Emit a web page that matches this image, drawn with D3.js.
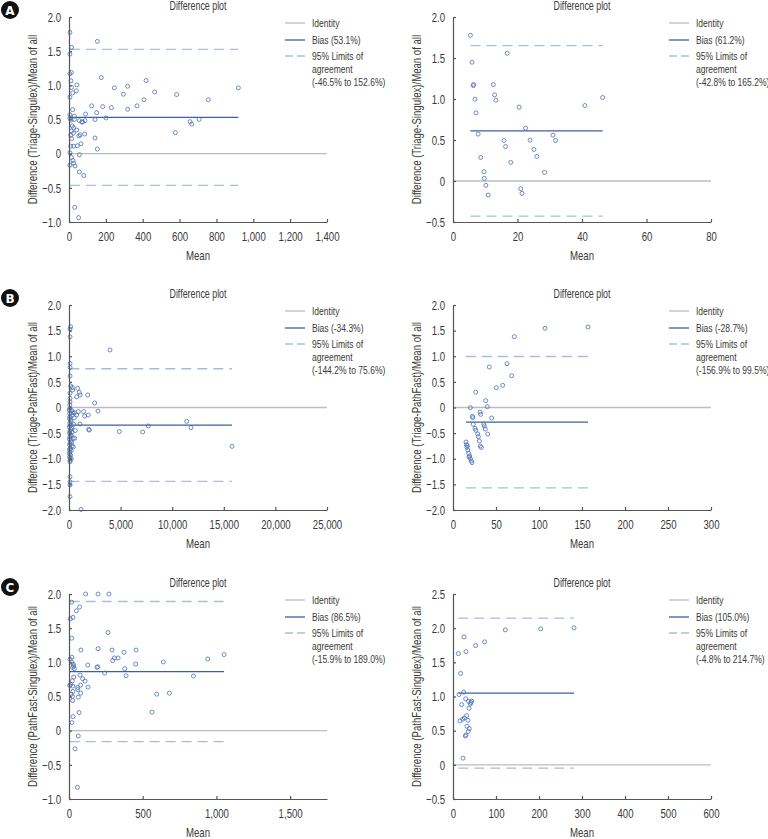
<!DOCTYPE html>
<html>
<head>
<meta charset="utf-8">
<script src="https://cdn.jsdelivr.net/npm/d3@7"></script>
<style>
  body { margin: 0; background: #fff; }
  svg { font-family: "Liberation Sans", Arial, sans-serif; }
</style>
</head>
<body>
<svg id="chart"></svg>
<script>
const width = 768;
const height = 839;

// DATA: [mean, difference/mean]
const aLeftPoints = [
  [5,1.775],[14,1.555],[5,1.457],[154,1.643],[13,1.19],[5,1.17],[11,1.065],[43,1.007],[14,0.97],[5,0.826],
  [20,0.89],[40,0.92],[175,1.114],[246,0.963],[318,0.987],[295,0.87],[418,1.07],[465,0.904],[584,0.865],[756,0.79],
  [919,0.963],[407,0.79],[369,0.70],[318,0.65],[230,0.674],[183,0.688],[123,0.70],[150,0.60],[201,0.522],[141,0.50],
  [90,0.58],[20,0.644],[5,0.57],[29,0.55],[5,0.52],[11,0.49],[29,0.50],[56,0.483],[74,0.463],[87,0.483],
  [69,0.463],[18,0.405],[25,0.38],[42,0.345],[13,0.33],[24,0.30],[9,0.27],[54,0.26],[61,0.277],[85,0.287],
  [14,0.22],[65,0.145],[141,0.229],[154,0.067],[9,0.11],[25,0.11],[45,0.116],[5,0.013],[56,-0.016],[13,-0.055],
  [22,-0.10],[25,-0.14],[5,-0.168],[33,-0.18],[56,-0.266],[80,-0.32],[577,0.307],[657,0.468],[666,0.434],[706,0.502],
  [31,-0.785],[52,-0.936]
];
const aRightPoints = [
  [5.4,1.777],[5.9,1.448],[6.3,1.164],[6.4,1.176],[6.8,0.998],[7.1,0.831],[7.8,0.572],[8.6,0.287],[9.6,0.113],[9.7,0.032],
  [10.2,-0.053],[10.9,-0.171],[12.5,1.176],[12.9,1.05],[13.3,0.985],[15.8,0.494],[16.3,0.42],[16.8,1.558],[17.9,0.227],[20.5,0.90],
  [21.0,-0.094],[21.4,-0.151],[22.5,0.645],[23.9,0.498],[25.1,0.385],[26.0,0.30],[28.4,0.105],[31.0,0.559],[31.8,0.494],[40.9,0.92],
  [46.4,1.018]
];
const bLeftPoints = [
  [161,1.577],[97,1.53],[97,1.38],[3973,1.122],[100,0.86],[100,0.78],[100,0.615],[161,0.42],[323,0.39],[840,0.375],
  [355,0.34],[1001,0.296],[1066,0.244],[743,0.21],[1809,0.244],[2487,0.088],[2810,-0.07],[97,0.28],[97,0.18],[97,0.11],
  [80,0.05],[90,-0.02],[258,-0.06],[517,-0.10],[743,-0.146],[904,-0.08],[1421,-0.08],[1518,-0.166],[1873,-0.146],[1066,-0.322],
  [1906,-0.426],[1970,-0.44],[4877,-0.47],[7138,-0.478],[7687,-0.36],[11402,-0.27],[11822,-0.393],[15795,-0.758],[1163,-1.99],[97,-0.99],
  [90,-1.06],[95,-1.35],[100,-1.45],[105,-1.51],[95,-1.74],
  [30,-0.05],[60,-0.12],[90,-0.18],[45,-0.22],[150,-0.25],[200,-0.28],[70,-0.31],[120,-0.35],[35,-0.38],[250,-0.40],
  [180,-0.43],[90,-0.46],[300,-0.48],[50,-0.5],[140,-0.53],[220,-0.55],[80,-0.58],[400,-0.6],[40,-0.62],[160,-0.65],
  [260,-0.68],[100,-0.7],[60,-0.73],[300,-0.75],[420,-0.77],[130,-0.8],[50,-0.82],[200,-0.84],[90,-0.87],[40,-0.9],
  [150,-0.93],[70,-0.96],[230,-1.0],[110,-1.03],[340,-0.15],[500,-0.2],[600,-0.45],[450,-0.33],[380,-0.1],[550,-0.6]
];
const bRightPoints = [
  [157,1.571],[107,1.545],[71.3,1.382],[42.2,0.79],[62.8,0.855],[68.2,0.621],[57.8,0.433],[50.4,0.387],[26.4,0.30],[38,0.133],
  [39.9,0.016],[20.2,-0.003],[45,-0.205],[31.4,-0.09],[32.2,-0.133],[22.5,-0.172],[22.9,-0.198],[23.6,-0.328],[25.6,-0.406],[26.4,-0.445],
  [35.7,-0.328],[36.4,-0.36],[37.6,-0.42],[40.3,-0.517],[28.7,-0.517],[29.5,-0.57],[30.6,-0.654],[31.8,-0.751],[32.9,-0.777],[15.1,-0.673],
  [15.5,-0.725],[16.3,-0.777],[17.1,-0.829],[18.2,-0.894],[19.4,-0.946],[20.2,-0.998],[21.3,-1.044],[22.1,-1.077],[16.7,-0.745],[18.6,-0.966]
];
const cLeftPoints = [
  [113,2.0],[197,2.0],[271,2.0],[18,1.88],[72,1.81],[50,1.755],[9,1.637],[27,1.657],[18,1.353],[265,1.436],
  [81,1.18],[197,1.20],[292,1.18],[373,1.147],[455,1.18],[296,1.025],[308,1.064],[333,1.064],[20,1.074],[7,1.044],
  [18,1.0],[29,0.97],[32,0.946],[36,0.907],[25,0.926],[127,0.96],[195,0.936],[190,0.926],[378,0.907],[452,0.975],
  [640,1.005],[941,1.049],[1052,1.113],[242,0.843],[387,0.804],[844,0.799],[75,0.814],[93,0.76],[109,0.725],[23,0.73],
  [32,0.784],[5,0.662],[11,0.676],[25,0.652],[59,0.633],[79,0.667],[129,0.637],[59,0.603],[27,0.574],[16,0.534],
  [79,0.549],[63,0.49],[23,0.50],[25,0.441],[595,0.534],[681,0.549],[563,0.27],[68,0.265],[27,0.206],[20,0.118],
  [63,-0.078],[41,-0.265],[57,-0.829]
];
const cRightPoints = [
  [12.4,1.627],[17.8,1.338],[25.6,1.873],[30.2,1.657],[52.7,1.745],[73.6,1.799],[121.7,1.975],[203.9,1.99],[281.4,2.005],[14,1.029],
  [24.8,1.064],[20.2,0.882],[29.5,0.966],[35.7,0.931],[41.9,0.912],[43.4,0.931],[40.3,0.892],[37.2,0.828],[31.8,0.72],[34.9,0.652],
  [16.3,0.642],[22.5,0.667],[26.4,0.686],[32.6,0.564],[38,0.529],[35.7,0.49],[30.2,0.436],[28.7,0.422],[23.3,0.098]
];

// bias, lower limit, upper limit (fractions)
const panelStats = [
  [0.531, -0.465, 1.526],
  [0.612, -0.428, 1.652],
  [-0.343, -1.442, 0.756],
  [-0.287, -1.569, 0.995],
  [0.865, -0.159, 1.890],
  [1.050, -0.048, 2.147]
];
const biasLabels = ["Bias (53.1%)", "Bias (61.2%)", "Bias (-34.3%)", "Bias (-28.7%)", "Bias (86.5%)", "Bias (105.0%)"];
const limitLabels = ["(-46.5% to 152.6%)", "(-42.8% to 165.2%)", "(-144.2% to 75.6%)", "(-156.9% to 99.5%)", "(-15.9% to 189.0%)", "(-4.8% to 214.7%)"];
const yTitles = ["Difference (Triage-Singulex)/Mean of all", "Difference (Triage-PathFast)/Mean of all", "Difference (PathFast-Singulex)/Mean of all"];
const xDomains = [[0, 1400], [0, 80], [0, 25000], [0, 300], [0, 1750], [0, 600]];
const xTicks = [
  [0,200,400,600,800,1000,1200,1400],
  [0,20,40,60,80],
  [0,5000,10000,15000,20000,25000],
  [0,50,100,150,200,250,300],
  [0,500,1000,1500],
  [0,100,200,300,400,500,600]
];
const yDomains = [[-1, 2], [-0.5, 2], [-2, 2], [-2, 2], [-1, 2], [-0.5, 2.5]];
const panelLetters = ["A", "B", "C"];

const allPoints = [aLeftPoints, aRightPoints, bLeftPoints, bRightPoints, cLeftPoints, cRightPoints];

const svg = d3.select("#chart")
  .attr("width", width)
  .attr("height", height)
  .style("background", "#fff");

// layout inside one panel
const plotLeft = 69, plotRight = 327, plotTop = 17, plotBottom = 222;
const rowOffsets = [0, 288, 577];
const colOffsets = [0, 384];

const axisColor = "#555";
const textColor = "#3a3a3a";
const squeeze = 0.74;   // the original font is a narrow gothic
const fmtY = d => d === 0 ? "0" : d3.format(".1f")(d);

// narrow text helper
function label(g, x, y, str, size, anchor, rot) {
  return g.append("text")
    .attr("transform", `translate(${x}, ${y})` + (rot ? ` rotate(${rot})` : "") + ` scale(${squeeze}, 1)`)
    .attr("text-anchor", anchor || "start")
    .style("font-size", size + "px")
    .attr("fill", textColor)
    .text(str);
}

allPoints.forEach((points, i) => {
  const row = Math.floor(i / 2), col = i % 2;
  const g = svg.append("g")
    .attr("transform", `translate(${colOffsets[col]}, ${rowOffsets[row]})`);

  const x = d3.scaleLinear().domain(xDomains[i]).range([plotLeft, plotRight]);
  const y = d3.scaleLinear().domain(yDomains[i]).range([plotBottom, plotTop]);

  // title
  label(g, 198, 10, "Difference plot", 12, "middle");

  // lines
  const [bias, lo, hi] = panelStats[i];
  const meanExtent = d3.extent(points, d => d[0]);

  g.append("line")
    .attr("x1", x(xDomains[i][0])).attr("x2", x(xDomains[i][1]))
    .attr("y1", y(0)).attr("y2", y(0))
    .attr("stroke", "#bcbcbc").attr("stroke-width", 1.3);

  [lo, hi].forEach(v => {
    g.append("line")
      .attr("x1", x(meanExtent[0])).attr("x2", x(meanExtent[1]))
      .attr("y1", y(v)).attr("y2", y(v))
      .attr("stroke", "#a7bde0").attr("stroke-width", 1.3)
      .attr("stroke-dasharray", "10,6");
  });

  g.append("line")
    .attr("x1", x(meanExtent[0])).attr("x2", x(meanExtent[1]))
    .attr("y1", y(bias)).attr("y2", y(bias))
    .attr("stroke", "#3d5f9e").attr("stroke-width", 1.3);

  // points
  g.selectAll("circle.pt")
    .data(points)
    .enter()
    .append("circle")
      .attr("class", "pt")
      .attr("cx", d => x(d[0]))
      .attr("cy", d => y(d[1]))
      .attr("r", 2)
      .attr("fill", "none")
      .attr("stroke", "#4d70b3")
      .attr("stroke-width", 0.8);

  // axes
  const yAxis = d3.axisLeft(y)
    .tickValues(d3.range(yDomains[i][0], yDomains[i][1] + 0.01, 0.5))
    .tickFormat(fmtY)
    .tickSize(-3)
    .tickSizeOuter(0)
    .tickPadding(8);
  const xAxis = d3.axisBottom(x)
    .tickValues(xTicks[i])
    .tickFormat(d3.format(","))
    .tickSize(-3)
    .tickSizeOuter(0)
    .tickPadding(10);

  const gy = g.append("g")
    .attr("transform", `translate(${plotLeft}, 0)`)
    .call(yAxis);
  const gx = g.append("g")
    .attr("transform", `translate(0, ${plotBottom})`)
    .call(xAxis);
  [gx, gy].forEach(a => {
    a.selectAll("path, line").attr("stroke", axisColor).attr("stroke-width", 1.2);
    a.selectAll("text").attr("fill", textColor)
      .style("font-size", "13px")
      .style("font-family", "\"Liberation Sans\", Arial, sans-serif")
      .attr("transform", `scale(${squeeze}, 1)`);
  });
  gy.selectAll("text").attr("x", -8 / squeeze);

  // axis titles
  label(g, (plotLeft + plotRight) / 2, 260, "Mean", 13, "middle");
  label(g, 37, (plotTop + plotBottom) / 2, yTitles[row], 13, "middle", -90);

  // legend
  const lg = g.append("g").attr("transform", "translate(285, 0)");
  const legendRows = [
    { y: 23, stroke: "#bcbcbc", dash: null, label: "Identity" },
    { y: 40, stroke: "#3d5f9e", dash: null, label: biasLabels[i] },
    { y: 56, stroke: "#a7bde0", dash: "8,4", label: "95% Limits of" }
  ];
  legendRows.forEach(r => {
    lg.append("line")
      .attr("x1", 0).attr("x2", 20)
      .attr("y1", r.y).attr("y2", r.y)
      .attr("stroke", r.stroke).attr("stroke-width", 1.3)
      .attr("stroke-dasharray", r.dash);
    label(lg, 27, r.y + 4, r.label, 11.5);
  });
  label(lg, 27, 73, "agreement", 11.5);
  label(lg, 27, 86, limitLabels[i], 11.5);

  // panel letter
  if (col === 0) {
    g.append("circle")
      .attr("cx", 10).attr("cy", 10).attr("r", 9)
      .attr("fill", "#111");
    g.append("text")
      .attr("x", 10).attr("y", 14.5)
      .attr("text-anchor", "middle")
      .style("font-size", "12px")
      .style("font-weight", "bold")
      .style("font-family", "\"DejaVu Sans\", sans-serif")
      .attr("fill", "#fff")
      .text(panelLetters[row]);
  }
});
</script>
</body>
</html>
